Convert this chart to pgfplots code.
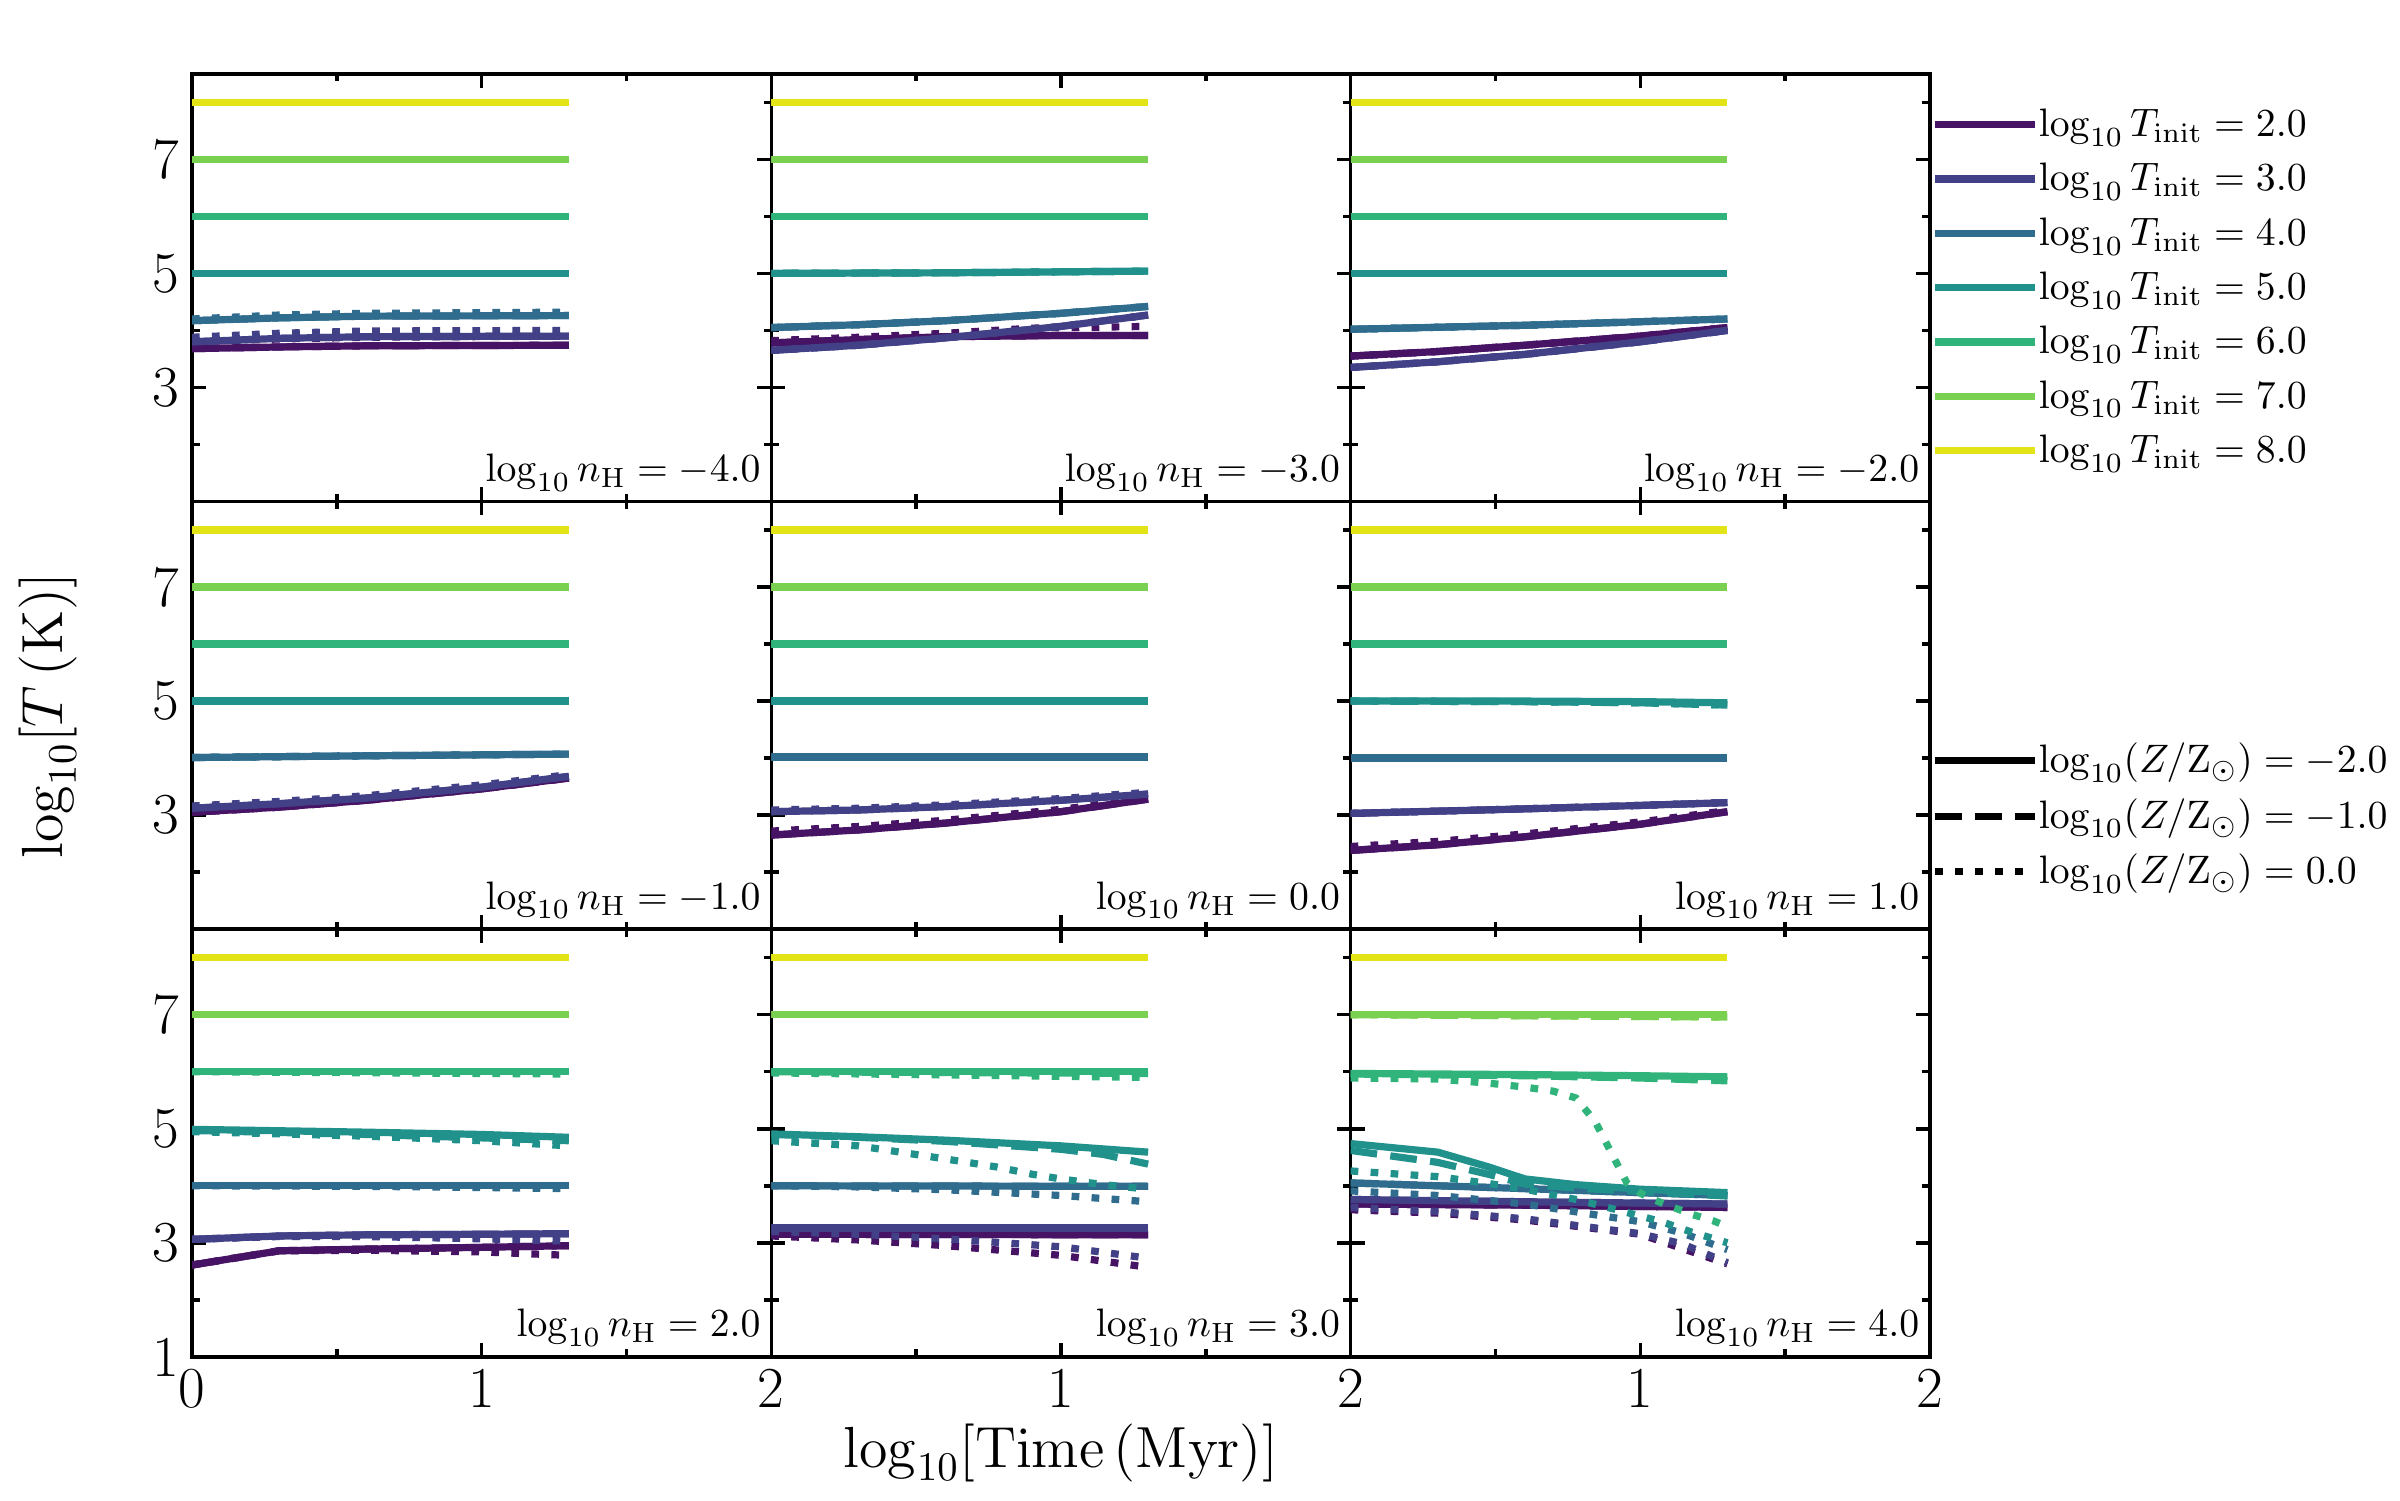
\documentclass[border=0pt]{standalone}
\usepackage{fix-cm}
\usepackage{pgfplots}
\pgfplotsset{compat=1.18}
\usepgfplotslibrary{groupplots}

\definecolor{cA}{HTML}{471365}
\definecolor{cB}{HTML}{424086}
\definecolor{cC}{HTML}{2F6C8E}
\definecolor{cD}{HTML}{21918C}
\definecolor{cE}{HTML}{30B47B}
\definecolor{cF}{HTML}{7AD151}
\definecolor{cG}{HTML}{E3E418}

\tikzset{
  zs/.style={line width=2.05pt},
  zd/.style={line width=2.05pt, dash pattern=on 7.6pt off 3.8pt},
  zo/.style={line width=2.05pt, dash pattern=on 2.2pt off 3.5pt},
}
\newcommand{\fa}{\fontsize{16.5}{19.5}\selectfont}
\newcommand{\fb}{\fontsize{11.3}{13.5}\selectfont}
\newcommand{\FL}[2]{%
  \addplot[zs,#1] coordinates {(0,#2) (1.301,#2)};
  \addplot[zd,#1] coordinates {(0,#2) (1.301,#2)};
  \addplot[zo,#1] coordinates {(0,#2) (1.301,#2)};}
\newcommand{\TR}[4]{%
  \addplot[zs,#1] coordinates {#2};
  \addplot[zd,#1] coordinates {#3};
  \addplot[zo,#1] coordinates {#4};}
\newcommand{\SM}[2]{\TR{#1}{#2}{#2}{#2}}
\newcommand{\LB}[1]{\node[anchor=base east, font=\fb, inner sep=0pt, xshift=-0.1cm, yshift=0.2cm] at (rel axis cs:1,0) {$\log_{10} n_{\mathrm{H}} = #1$};}
\newcommand{\UP}{\FL{cE}{6}\FL{cF}{7}\FL{cG}{8}}

\begin{document}
\begin{tikzpicture}
\begin{groupplot}[
  group style={group size=3 by 3, horizontal sep=0pt, vertical sep=0pt,
    xticklabels at=edge bottom, yticklabels at=edge left},
  width=5.793cm, height=4.277cm, scale only axis,
  xmin=0, xmax=2, ymin=1, ymax=8.5,
  xtick={0,1,2}, minor xtick={0.5,1.5},
  ytick={1,3,5,7}, minor ytick={2,4,6,8},
  xticklabels={0,1,2}, yticklabels={,3,5,7},
  tick align=inside, major tick length=0.14cm, minor tick length=0.075cm,
  every tick/.append style={black, line width=1pt},
  axis line style={line width=1pt},
  tick label style={font=\fa},
  legend image code/.code={\draw[#1] (0cm,0.12cm) -- (1.0cm,0.12cm);},
]
% ---------- row 1 ----------
\nextgroupplot
\TR{cA}{(0,3.68)(0.301,3.71)(0.602,3.73)(1.301,3.74)}{(0,3.68)(0.301,3.71)(0.602,3.73)(1.301,3.74)}{(0,3.8)(0.301,3.85)(0.602,3.88)(1.301,3.9)}
\TR{cB}{(0,3.8)(0.301,3.86)(0.602,3.89)(1.301,3.9)}{(0,3.8)(0.301,3.86)(0.602,3.89)(1.301,3.9)}{(0,3.88)(0.301,3.95)(0.602,3.99)(1.301,4.0)}
\TR{cC}{(0,4.17)(0.301,4.22)(0.602,4.25)(1.301,4.26)}{(0,4.17)(0.301,4.22)(0.602,4.25)(1.301,4.26)}{(0,4.2)(0.301,4.27)(0.602,4.3)(1.301,4.32)}
\FL{cD}{5}\UP
\LB{-4.0}

\nextgroupplot
\TR{cA}{(0,3.78)(0.301,3.84)(0.602,3.89)(1,3.91)(1.301,3.91)}{(0,3.78)(0.301,3.84)(0.602,3.89)(1,3.91)(1.301,3.91)}{(0,3.82)(0.301,3.88)(0.602,3.95)(0.903,4.04)(1.301,4.07)}
\SM{cB}{(0,3.65)(0.301,3.74)(0.602,3.87)(1,4.07)(1.301,4.27)}
\SM{cC}{(0,4.05)(0.301,4.1)(0.602,4.17)(1,4.3)(1.301,4.42)}
\SM{cD}{(0,5)(0.602,5.01)(1.301,5.04)}
\UP
\LB{-3.0}

\nextgroupplot[legend style={at={(1.003,0.9278)}, anchor=north west, draw=none, fill=none,
   inner sep=0pt, outer sep=0pt, row sep=0pt, font=\fb, cells={anchor=base west},
   nodes={inner sep=0pt, text height=0.32cm, text depth=0.223cm},
   /tikz/every even column/.append style={column sep=0pt}}]
\addlegendimage{zs,cA}
\addlegendimage{zs,cB}
\addlegendimage{zs,cC}
\addlegendimage{zs,cD}
\addlegendimage{zs,cE}
\addlegendimage{zs,cF}
\addlegendimage{zs,cG}
\SM{cA}{(0,3.55)(0.301,3.63)(0.602,3.74)(1,3.9)(1.301,4.05)}
\SM{cB}{(0,3.35)(0.301,3.45)(0.602,3.58)(1,3.8)(1.301,4.0)}
\SM{cC}{(0,4.02)(0.602,4.09)(1.301,4.2)}
\FL{cD}{5}\UP
\LB{-2.0}
\legend{$\log_{10} T_{\mathrm{init}} = 2.0$,$\log_{10} T_{\mathrm{init}} = 3.0$,$\log_{10} T_{\mathrm{init}} = 4.0$,$\log_{10} T_{\mathrm{init}} = 5.0$,$\log_{10} T_{\mathrm{init}} = 6.0$,$\log_{10} T_{\mathrm{init}} = 7.0$,$\log_{10} T_{\mathrm{init}} = 8.0$}
% ---------- row 2 ----------
\nextgroupplot[ylabel={$\log_{10}[T\,(\mathrm{K})]$}, ylabel style={at={(rel axis cs:-0.2486,0.5)}, anchor=center, font=\fa}]
\SM{cA}{(0,3.05)(0.301,3.14)(0.602,3.26)(1,3.46)(1.301,3.65)}
\TR{cB}{(0,3.12)(0.301,3.2)(0.602,3.3)(1,3.49)(1.301,3.68)}{(0,3.12)(0.301,3.2)(0.602,3.3)(1,3.49)(1.301,3.68)}{(0,3.16)(0.301,3.24)(0.602,3.34)(1,3.53)(1.301,3.71)}
\SM{cC}{(0,4.01)(0.602,4.04)(1.301,4.07)}
\FL{cD}{5}\UP
\LB{-1.0}

\nextgroupplot
\TR{cA}{(0,2.65)(0.301,2.74)(0.602,2.86)(1,3.06)(1.301,3.28)}{(0,2.65)(0.301,2.74)(0.602,2.86)(1,3.06)(1.301,3.28)}{(0,2.72)(0.301,2.8)(0.602,2.91)(1,3.1)(1.301,3.3)}
\TR{cB}{(0,3.06)(0.301,3.09)(0.602,3.15)(1,3.26)(1.301,3.37)}{(0,3.06)(0.301,3.09)(0.602,3.15)(1,3.26)(1.301,3.37)}{(0,3.09)(0.301,3.12)(0.602,3.18)(1,3.29)(1.301,3.4)}
\FL{cC}{4.02}
\FL{cD}{5}\UP
\LB{0.0}

\nextgroupplot[legend style={at={(1.003,0.443)}, anchor=north west, draw=none, fill=none,
   inner sep=0pt, outer sep=0pt, row sep=0pt, font=\fb, cells={anchor=base west},
   nodes={inner sep=0pt, text height=0.33cm, text depth=0.225cm},
   /tikz/every even column/.append style={column sep=0pt}}]
\addlegendimage{zs,black}
\addlegendimage{zd,black}
\addlegendimage{zo,black}
\TR{cA}{(0,2.38)(0.301,2.48)(0.602,2.62)(1,2.84)(1.301,3.06)}{(0,2.38)(0.301,2.48)(0.602,2.62)(1,2.84)(1.301,3.06)}{(0,2.45)(0.301,2.54)(0.602,2.67)(1,2.88)(1.301,3.08)}
\SM{cB}{(0,3.03)(0.301,3.07)(0.602,3.11)(1,3.17)(1.301,3.22)}
\FL{cC}{4}
\TR{cD}{(0,5)(0.602,5)(1,4.99)(1.301,4.97)}{(0,5)(0.602,4.99)(1,4.97)(1.301,4.93)}{(0,5)(0.602,4.99)(1,4.97)(1.301,4.93)}
\UP
\LB{1.0}
\legend{$\log_{10}(Z/\mathrm{Z}_{\odot}) = -2.0$,$\log_{10}(Z/\mathrm{Z}_{\odot}) = -1.0$,$\log_{10}(Z/\mathrm{Z}_{\odot}) = 0.0$}
% ---------- row 3 ----------
\nextgroupplot[yticklabels={1,3,5,7}]
\TR{cA}{(0,2.61)(0.301,2.86)(0.602,2.89)(1,2.92)(1.301,2.95)}{(0,2.61)(0.301,2.86)(0.602,2.89)(1,2.92)(1.301,2.95)}{(0,2.61)(0.301,2.86)(0.602,2.87)(1,2.84)(1.301,2.78)}
\TR{cB}{(0,3.06)(0.301,3.12)(0.602,3.14)(1,3.15)(1.301,3.16)}{(0,3.06)(0.301,3.12)(0.602,3.14)(1,3.15)(1.301,3.16)}{(0,3.06)(0.301,3.11)(0.602,3.11)(1,3.07)(1.301,3.03)}
\TR{cC}{(0,4)(1.301,4)}{(0,4)(1.301,4)}{(0,4)(0.602,3.99)(1,3.97)(1.301,3.95)}
\TR{cD}{(0,4.99)(0.602,4.94)(1,4.9)(1.301,4.85)}{(0,4.97)(0.602,4.9)(1,4.84)(1.301,4.79)}{(0,4.95)(0.602,4.87)(1,4.79)(1.301,4.7)}
\TR{cE}{(0,6)(1.301,6)}{(0,6)(1.301,6)}{(0,6)(1.301,5.96)}
\FL{cF}{7}\FL{cG}{8}
\LB{2.0}

\nextgroupplot[xticklabels={,1,2}, xlabel={$\log_{10}[\mathrm{Time\,(Myr)}]$}, xlabel style={at={(rel axis cs:0.5,-0.2245)}, anchor=center, font=\fa}]
\TR{cA}{(0,3.15)(1.301,3.14)}{(0,3.15)(1.301,3.14)}{(0,3.12)(0.301,3.05)(0.602,2.95)(1,2.78)(1.301,2.57)}
\TR{cB}{(0,3.26)(1.301,3.26)}{(0,3.26)(1.301,3.26)}{(0,3.2)(0.301,3.15)(0.602,3.07)(1,2.93)(1.301,2.73)}
\TR{cC}{(0,4)(1.301,3.99)}{(0,4)(1.301,3.99)}{(0,4)(0.301,3.98)(0.602,3.93)(1,3.83)(1.301,3.72)}
\TR{cD}{(0,4.91)(0.301,4.86)(0.602,4.8)(1,4.7)(1.301,4.59)}{(0,4.9)(0.301,4.85)(0.602,4.78)(1,4.64)(1.146,4.55)(1.301,4.38)}{(0,4.79)(0.301,4.7)(0.602,4.47)(0.778,4.33)(0.903,4.2)(1,4.12)(1.146,4.02)(1.301,3.94)}
\TR{cE}{(0,6)(1.301,6)}{(0,6)(1.301,5.97)}{(0,5.98)(1.301,5.9)}
\FL{cF}{7}\FL{cG}{8}
\LB{3.0}

\nextgroupplot[xticklabels={,1,2}]
\TR{cA}{(0,3.68)(0.602,3.66)(1.301,3.62)}{(0,3.68)(0.602,3.66)(1.301,3.62)}{(0,3.58)(0.301,3.52)(0.602,3.4)(1,3.15)(1.301,2.63)}
\TR{cB}{(0,3.76)(0.602,3.72)(1.301,3.68)}{(0,3.76)(0.602,3.72)(1.301,3.68)}{(0,3.62)(0.301,3.55)(0.602,3.42)(1,3.16)(1.146,2.98)(1.301,2.65)}
\TR{cC}{(0,4.05)(0.602,3.95)(1,3.88)(1.301,3.83)}{(0,4.05)(0.602,3.95)(1,3.88)(1.301,3.83)}{(0,3.91)(0.301,3.83)(0.602,3.68)(1,3.37)(1.146,3.17)(1.301,2.88)}
\TR{cD}{(0,4.74)(0.301,4.59)(0.477,4.33)(0.602,4.12)(0.778,4.02)(1,3.94)(1.301,3.88)}{(0,4.62)(0.301,4.41)(0.477,4.2)(0.602,4.03)(0.778,3.96)(1,3.9)(1.301,3.82)}{(0,4.26)(0.301,4.16)(0.477,4.04)(0.602,3.94)(0.778,3.76)(0.903,3.6)(1,3.47)(1.079,3.36)(1.176,3.19)(1.255,3.07)(1.301,3.0)}
\TR{cE}{(0,5.97)(0.602,5.95)(1,5.93)(1.301,5.91)}{(0,5.96)(0.602,5.93)(1,5.89)(1.301,5.84)}{(0,5.89)(0.301,5.87)(0.477,5.8)(0.602,5.73)(0.699,5.66)(0.778,5.54)(0.845,5.12)(0.903,4.55)(0.954,4.05)(1,3.87)(1.041,3.77)(1.079,3.69)(1.114,3.62)(1.146,3.56)(1.176,3.5)(1.204,3.46)(1.23,3.42)(1.255,3.38)(1.279,3.33)(1.301,3.28)}
\TR{cF}{(0,7)(1.301,7)}{(0,7)(1.301,6.96)}{(0,7)(1.301,6.96)}
\FL{cG}{8}
\LB{4.0}
\end{groupplot}
\pgfresetboundingbox
\path (group c1r1.north west) ++(-1.92cm,0.738cm) rectangle ++(24cm,-15cm);
\end{tikzpicture}
\end{document}
